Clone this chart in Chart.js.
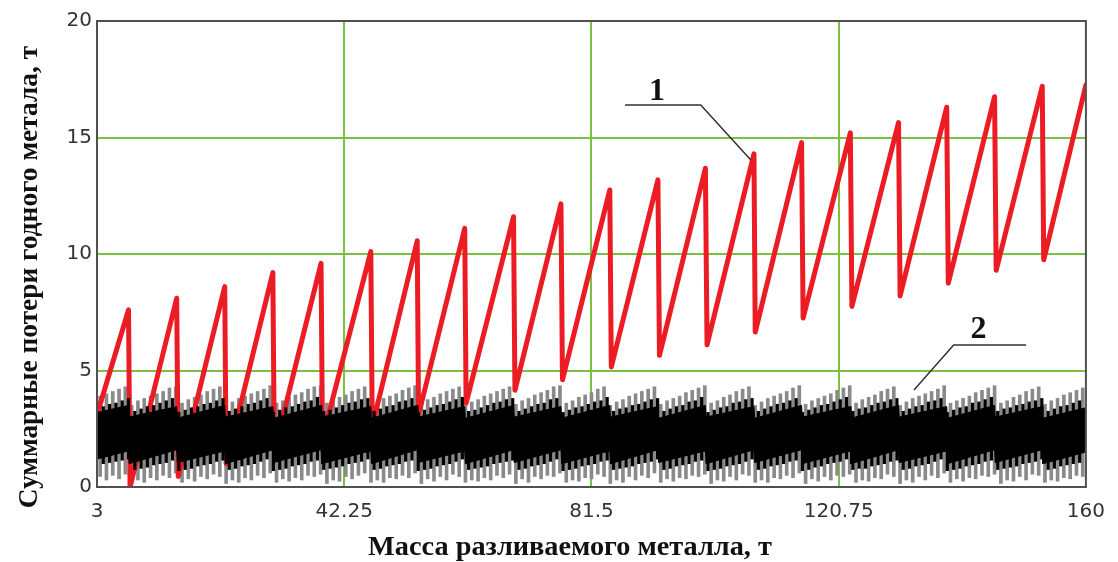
<!DOCTYPE html>
<html>
<head>
<meta charset="utf-8">
<script src="https://cdn.jsdelivr.net/npm/chart.js@4.4.1/dist/chart.umd.min.js"></script>
<style>
  html, body { margin: 0; padding: 0; background: #fff; }
  #wrap { width: 1118px; height: 562px; position: relative; }
</style>
</head>
<body>
<div id="wrap"><canvas id="c" width="1118" height="562"></canvas></div>
<script>
// ---------- DATA ----------
const xTicks = [3, 42.25, 81.5, 120.75, 160];
const xTickLabels = ['3', '42.25', '81.5', '120.75', '160'];
const yTicks = [0, 5, 10, 15, 20];

// Curve 1 (red sawtooth)
const redX = [3, 8.0, 8.25, 15.65, 15.9, 23.28, 23.5, 30.92, 31.15, 38.57, 38.8, 46.47, 46.7, 53.84, 54.05, 61.38, 61.6, 69.13, 69.35, 76.66, 76.9, 84.41, 84.65, 92.05, 92.3, 99.59, 99.85, 107.3, 107.5, 114.86, 115.1, 122.6, 122.85, 130.25, 130.5, 137.9, 138.15, 145.5, 145.75, 153.07, 153.3, 160];
const redY = [3.1, 7.6, 0.0, 8.1, 0.45, 8.6, 1.0, 9.2, 1.55, 9.6, 2.1, 10.1, 2.6, 10.57, 3.1, 11.1, 3.6, 11.6, 4.15, 12.15, 4.6, 12.75, 5.15, 13.18, 5.65, 13.68, 6.1, 14.3, 6.65, 14.78, 7.25, 15.2, 7.75, 15.64, 8.2, 16.3, 8.75, 16.75, 9.3, 17.2, 9.75, 17.25];

// Curve 2 (dense black band): envelope of the solid part
const bandX = [3, 8.0, 8.1, 15.65, 15.75, 23.28, 23.38, 30.92, 31.02, 38.57, 38.67, 46.47, 46.57, 53.84, 53.94, 61.38, 61.48, 69.13, 69.23, 76.66, 76.76, 84.41, 84.51, 92.05, 92.15, 99.59, 99.69, 107.3, 107.4, 114.86, 114.96, 122.6, 122.7, 130.25, 130.35, 137.9, 138.0, 145.5, 145.6, 153.07, 153.17, 160];
const bandTop = [3.2, 3.5, 3.0, 3.45, 2.95, 3.5, 3.0, 3.45, 2.95, 3.5, 3.0, 3.45, 2.95, 3.5, 3.0, 3.45, 2.95, 3.5, 3.0, 3.45, 2.95, 3.5, 3.0, 3.45, 2.95, 3.5, 3.0, 3.45, 2.95, 3.5, 3.0, 3.45, 2.95, 3.5, 3.0, 3.45, 2.95, 3.5, 3.0, 3.45, 2.95, 3.4];
const bandBottom = [1.2, 1.55, 1.0, 1.6, 1.05, 1.55, 1.0, 1.6, 1.05, 1.6, 1.0, 1.55, 1.0, 1.6, 1.05, 1.55, 1.0, 1.6, 1.05, 1.6, 1.0, 1.55, 1.0, 1.6, 1.05, 1.55, 1.0, 1.6, 1.05, 1.6, 1.0, 1.55, 1.0, 1.6, 1.05, 1.55, 1.0, 1.6, 1.05, 1.6, 1.0, 1.5];

// Curve 2: grey spike extremes (half-step positions)
const spikeX = [3.5,4.5,5.5,6.5,7.5,8.5,9.5,10.5,11.5,12.5,13.5,14.5,15.5,16.5,17.5,18.5,19.5,20.5,21.5,22.5,23.5,24.5,25.5,26.5,27.5,28.5,29.5,30.5,31.5,32.5,33.5,34.5,35.5,36.5,37.5,38.5,39.5,40.5,41.5,42.5,43.5,44.5,45.5,46.5,47.5,48.5,49.5,50.5,51.5,52.5,53.5,54.5,55.5,56.5,57.5,58.5,59.5,60.5,61.5,62.5,63.5,64.5,65.5,66.5,67.5,68.5,69.5,70.5,71.5,72.5,73.5,74.5,75.5,76.5,77.5,78.5,79.5,80.5,81.5,82.5,83.5,84.5,85.5,86.5,87.5,88.5,89.5,90.5,91.5,92.5,93.5,94.5,95.5,96.5,97.5,98.5,99.5,100.5,101.5,102.5,103.5,104.5,105.5,106.5,107.5,108.5,109.5,110.5,111.5,112.5,113.5,114.5,115.5,116.5,117.5,118.5,119.5,120.5,121.5,122.5,123.5,124.5,125.5,126.5,127.5,128.5,129.5,130.5,131.5,132.5,133.5,134.5,135.5,136.5,137.5,138.5,139.5,140.5,141.5,142.5,143.5,144.5,145.5,146.5,147.5,148.5,149.5,150.5,151.5,152.5,153.5,154.5,155.5,156.5,157.5,158.5,159.5];
const spikeHigh = [
  3.9,4.0,4.1,4.2,4.3,
  3.5,3.7,3.8,3.9,4.0,4.1,4.25,4.3,
  3.6,3.75,3.85,3.95,4.1,4.2,4.3,
  3.5,3.65,3.8,3.9,4.0,4.1,4.2,4.35,
  3.6,3.7,3.85,3.95,4.05,4.2,4.3,4.35,
  3.6,3.7,3.85,3.95,4.1,4.2,4.3,
  3.5,3.65,3.8,3.9,4.0,4.15,4.25,4.35,
  3.6,3.75,3.85,4.0,4.1,4.2,4.3,
  3.5,3.65,3.75,3.9,4.0,4.1,4.2,4.3,
  3.55,3.7,3.8,3.95,4.05,4.15,4.3,4.35,
  3.6,3.7,3.85,3.95,4.05,4.2,4.3,
  3.5,3.65,3.75,3.9,4.0,4.1,4.2,4.3,
  3.55,3.7,3.8,3.9,4.05,4.15,4.25,4.35,
  3.6,3.7,3.85,3.95,4.1,4.2,4.3,
  3.5,3.65,3.8,3.9,4.0,4.1,4.25,4.35,
  3.55,3.7,3.8,3.9,4.0,4.15,4.25,4.35,
  3.6,3.75,3.85,3.95,4.1,4.2,4.3,
  3.5,3.65,3.8,3.9,4.0,4.1,4.2,4.35,
  3.6,3.7,3.8,3.9,4.05,4.15,4.25,4.35,
  3.6,3.7,3.85,3.95,4.1,4.2,4.3,
  3.55,3.7,3.8,3.95,4.05,4.15,4.25
];
const spikeLow = [
  0.45,0.3,0.5,0.35,0.55,
  0.15,0.3,0.2,0.4,0.3,0.5,0.4,0.6,
  0.2,0.35,0.25,0.45,0.35,0.55,0.45,
  0.15,0.3,0.2,0.4,0.3,0.5,0.4,0.6,
  0.2,0.35,0.25,0.4,0.3,0.5,0.45,0.55,
  0.15,0.3,0.25,0.45,0.35,0.5,0.6,
  0.2,0.3,0.2,0.4,0.35,0.5,0.4,0.6,
  0.15,0.35,0.25,0.45,0.3,0.55,0.45,
  0.2,0.3,0.25,0.4,0.3,0.5,0.4,0.55,
  0.15,0.35,0.2,0.45,0.35,0.5,0.45,0.6,
  0.2,0.3,0.25,0.4,0.35,0.55,0.45,
  0.15,0.3,0.2,0.45,0.3,0.5,0.4,0.6,
  0.2,0.35,0.25,0.4,0.35,0.5,0.45,0.55,
  0.15,0.3,0.25,0.45,0.3,0.55,0.5,
  0.2,0.3,0.2,0.4,0.35,0.5,0.4,0.6,
  0.15,0.35,0.25,0.45,0.3,0.5,0.45,0.55,
  0.2,0.3,0.25,0.4,0.35,0.55,0.45,
  0.15,0.3,0.2,0.45,0.3,0.5,0.4,0.6,
  0.2,0.35,0.25,0.4,0.35,0.5,0.45,0.55,
  0.15,0.3,0.25,0.45,0.3,0.55,0.5,
  0.2,0.3,0.25,0.4,0.35,0.5,0.45
];

// Curve 2: black spike extremes (whole-step positions)
const darkX = [4,5,6,7,8,9,10,11,12,13,14,15,16,17,18,19,20,21,22,23,24,25,26,27,28,29,30,31,32,33,34,35,36,37,38,39,40,41,42,43,44,45,46,47,48,49,50,51,52,53,54,55,56,57,58,59,60,61,62,63,64,65,66,67,68,69,70,71,72,73,74,75,76,77,78,79,80,81,82,83,84,85,86,87,88,89,90,91,92,93,94,95,96,97,98,99,100,101,102,103,104,105,106,107,108,109,110,111,112,113,114,115,116,117,118,119,120,121,122,123,124,125,126,127,128,129,130,131,132,133,134,135,136,137,138,139,140,141,142,143,144,145,146,147,148,149,150,151,152,153,154,155,156,157,158,159];
const darkHigh = [
  3.45,3.55,3.6,3.7,3.8,
  3.25,3.35,3.45,3.5,3.6,3.7,3.8,
  3.2,3.3,3.4,3.45,3.55,3.6,3.7,3.8,
  3.25,3.35,3.45,3.55,3.6,3.7,3.8,
  3.2,3.3,3.4,3.45,3.55,3.65,3.7,3.85,
  3.25,3.3,3.4,3.5,3.6,3.65,3.75,3.8,
  3.25,3.35,3.45,3.5,3.65,3.7,3.8,
  3.2,3.3,3.4,3.5,3.55,3.65,3.75,3.85,
  3.25,3.3,3.4,3.5,3.6,3.65,3.75,3.8,
  3.25,3.35,3.45,3.55,3.6,3.75,3.8,
  3.2,3.3,3.4,3.45,3.55,3.65,3.7,3.85,
  3.25,3.35,3.4,3.5,3.55,3.65,3.75,3.8,
  3.25,3.35,3.45,3.5,3.65,3.7,3.85,
  3.2,3.3,3.4,3.45,3.6,3.65,3.75,3.8,
  3.25,3.35,3.45,3.55,3.6,3.7,3.8,
  3.2,3.3,3.4,3.5,3.55,3.65,3.75,3.85,
  3.25,3.35,3.4,3.5,3.6,3.65,3.75,3.8,
  3.25,3.35,3.45,3.5,3.65,3.7,3.8,
  3.2,3.3,3.4,3.45,3.6,3.65,3.75,3.85,
  3.25,3.35,3.4,3.5,3.55,3.65,3.7,3.8,
  3.25,3.35,3.45,3.5,3.6,3.7
];
const darkLow = [
  1.0,1.05,1.1,1.15,1.2,
  0.75,0.8,0.85,0.95,1.0,1.05,1.15,
  0.7,0.75,0.8,0.9,0.95,1.0,1.1,1.15,
  0.75,0.8,0.9,0.95,1.0,1.1,1.2,
  0.7,0.75,0.8,0.9,0.95,1.0,1.1,1.15,
  0.75,0.8,0.85,0.9,1.0,1.05,1.1,1.2,
  0.75,0.8,0.9,0.95,1.0,1.1,1.15,
  0.7,0.75,0.8,0.9,0.95,1.0,1.1,1.2,
  0.75,0.8,0.85,0.9,1.0,1.05,1.1,1.15,
  0.75,0.8,0.9,0.95,1.0,1.1,1.2,
  0.7,0.75,0.8,0.9,0.95,1.0,1.1,1.15,
  0.75,0.8,0.85,0.9,1.0,1.05,1.1,1.2,
  0.75,0.8,0.9,0.95,1.0,1.1,1.15,
  0.7,0.75,0.8,0.9,0.95,1.0,1.1,1.2,
  0.75,0.8,0.9,0.95,1.0,1.1,1.15,
  0.7,0.75,0.85,0.9,1.0,1.05,1.1,1.2,
  0.75,0.8,0.8,0.9,0.95,1.0,1.1,1.15,
  0.75,0.8,0.9,0.95,1.0,1.1,1.2,
  0.7,0.75,0.8,0.9,0.95,1.0,1.1,1.15,
  0.75,0.8,0.85,0.9,1.0,1.05,1.1,1.2,
  0.75,0.8,0.9,0.95,1.0,1.05
];

const yTitle = 'Суммарные потери годного метала, т';
const xTitle = 'Масса разливаемого металла, т';
const curveLabels = ['1', '2'];

// ---------- BUILD ----------
const pts = (xs, ys) => xs.map((x, i) => ({ x: x, y: ys[i] }));
const ranges = (xs, lo, hi) => xs.map((x, i) => ({ x: x, y: [lo[i], hi[i]] }));

const GREEN = '#7ac143';
const gridColor = (list) => (ctx) => {
  const v = ctx.tick && ctx.tick.value;
  if (v === undefined) return 'rgba(0,0,0,0)';
  const inner = list.slice(1, -1);
  return inner.some(t => Math.abs(t - v) < 1e-6) ? GREEN : 'rgba(0,0,0,0)';
};

const decor = {
  id: 'decor',
  afterDraw(chart) {
    const { ctx, chartArea: a, scales: { x, y } } = chart;
    ctx.save();
    ctx.strokeStyle = '#505050';
    ctx.lineWidth = 2;
    ctx.strokeRect(a.left, a.top, a.right - a.left, a.bottom - a.top);

    ctx.strokeStyle = '#333';
    ctx.lineWidth = 1.5;
    ctx.beginPath();
    ctx.moveTo(x.getPixelForValue(86.83), y.getPixelForValue(16.4));
    ctx.lineTo(x.getPixelForValue(98.85), y.getPixelForValue(16.4));
    ctx.lineTo(x.getPixelForValue(106.8), y.getPixelForValue(14.03));
    ctx.moveTo(x.getPixelForValue(150.5), y.getPixelForValue(6.09));
    ctx.lineTo(x.getPixelForValue(139.0), y.getPixelForValue(6.09));
    ctx.lineTo(x.getPixelForValue(132.7), y.getPixelForValue(4.16));
    ctx.stroke();

    ctx.fillStyle = '#111';
    ctx.font = 'bold 32px "Liberation Serif", "Times New Roman", serif';
    ctx.textAlign = 'center';
    ctx.textBaseline = 'alphabetic';
    ctx.fillText(curveLabels[0], x.getPixelForValue(91.9), y.getPixelForValue(16.61));
    ctx.fillText(curveLabels[1], x.getPixelForValue(142.95), y.getPixelForValue(6.39));

    ctx.fillStyle = '#111';
    ctx.textBaseline = 'middle';
    ctx.font = 'bold 26px "Liberation Serif", "Times New Roman", serif';
    let w = ctx.measureText(xTitle).width;
    let fs = 26 * 404 / w;
    ctx.font = 'bold ' + fs.toFixed(1) + 'px "Liberation Serif", "Times New Roman", serif';
    ctx.fillText(xTitle, 570, 548);

    ctx.font = 'bold 26px "Liberation Serif", "Times New Roman", serif';
    w = ctx.measureText(yTitle).width;
    fs = 26 * 463 / w;
    ctx.font = 'bold ' + fs.toFixed(1) + 'px "Liberation Serif", "Times New Roman", serif';
    ctx.translate(30, 277);
    ctx.rotate(-Math.PI / 2);
    ctx.fillText(yTitle, 0, 0);
    ctx.restore();
  }
};

new Chart(document.getElementById('c'), {
  type: 'line',
  data: {
    datasets: [
      {
        type: 'line', label: 'band-low', data: pts(bandX, bandBottom),
        borderColor: '#000', borderWidth: 1, pointRadius: 0, fill: false, tension: 0, order: 1
      },
      {
        type: 'line', label: 'band-high', data: pts(bandX, bandTop),
        borderColor: '#000', borderWidth: 1, pointRadius: 0, backgroundColor: '#000', fill: '-1', tension: 0, order: 1
      },
      {
        type: 'bar', label: 'dark', data: ranges(darkX, darkLow, darkHigh),
        backgroundColor: '#000', borderWidth: 0, barThickness: 2.5, grouped: false, order: 1
      },
      {
        type: 'line', label: '1', data: pts(redX, redY),
        borderColor: '#ec1c24', borderWidth: 5, pointRadius: 0, fill: false, tension: 0,
        borderJoinStyle: 'round', borderCapStyle: 'round', order: 2
      },
      {
        type: 'bar', label: '2', data: ranges(spikeX, spikeLow, spikeHigh),
        backgroundColor: '#8a8a8a', borderWidth: 0, barThickness: 3, grouped: false, order: 4
      }
    ]
  },
  options: {
    responsive: false,
    animation: false,
    events: [],
    layout: { padding: { left: 0, right: 28, top: 21, bottom: 0 } },
    plugins: { legend: { display: false }, tooltip: { enabled: false }, title: { display: false } },
    scales: {
      x: {
        type: 'linear', min: 3, max: 160, offset: false,
        afterBuildTicks: (s) => { s.ticks = xTicks.map(v => ({ value: v })); },
        afterFit: (s) => { s.height = 75; },
        ticks: {
          autoSkip: false, maxRotation: 0, minRotation: 0, padding: 13,
          color: '#333', font: { family: '"DejaVu Sans", Verdana, sans-serif', size: 20 },
          callback: (v, i) => xTickLabels[i]
        },
        grid: { offset: false, drawTicks: false, color: gridColor(xTicks), lineWidth: 2 },
        border: { display: false }
      },
      y: {
        type: 'linear', min: 0, max: 20, beginAtZero: true,
        afterBuildTicks: (s) => { s.ticks = yTicks.map(v => ({ value: v })); },
        afterFit: (s) => { s.width = 97; },
        ticks: {
          padding: 5, color: '#333', font: { family: '"DejaVu Sans", Verdana, sans-serif', size: 20 },
          callback: (v) => String(v)
        },
        grid: { drawTicks: false, color: gridColor(yTicks), lineWidth: 2 },
        border: { display: false }
      }
    }
  },
  plugins: [decor]
});
</script>
</body>
</html>
